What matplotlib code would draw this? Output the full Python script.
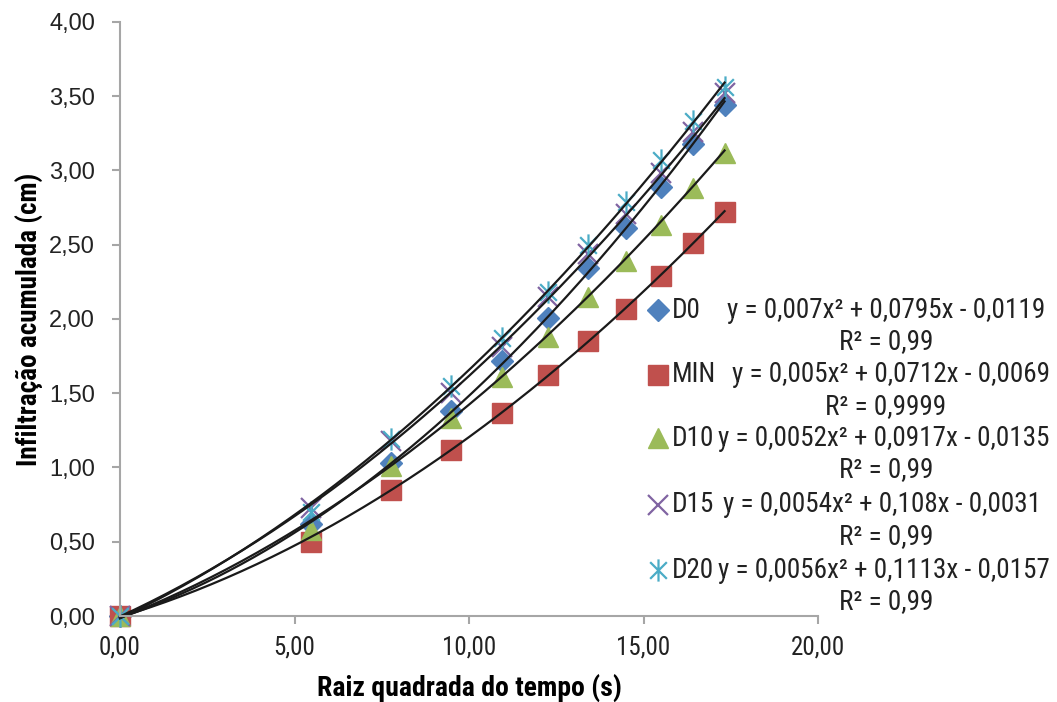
import matplotlib
matplotlib.use("Agg")
import matplotlib.pyplot as plt
import matplotlib.font_manager as fm
import numpy as np
from matplotlib.lines import Line2D
from matplotlib.path import Path

# raiz quadrada do tempo
x = [0.0, 5.48, 7.75, 9.49, 10.95, 12.25, 13.42, 14.49, 15.49, 16.43, 17.32]

d0 = [0.0, 0.62, 1.03, 1.38, 1.72, 2.01, 2.34, 2.61, 2.89, 3.18, 3.44]
mn = [0.0, 0.50, 0.85, 1.12, 1.37, 1.62, 1.85, 2.07, 2.29, 2.51, 2.72]
d10 = [0.0, 0.58, 1.01, 1.33, 1.61, 1.88, 2.15, 2.39, 2.63, 2.88, 3.12]
d15 = [0.0, 0.73, 1.18, 1.50, 1.81, 2.15, 2.44, 2.71, 2.98, 3.26, 3.52]
d20 = [0.0, 0.70, 1.19, 1.55, 1.87, 2.18, 2.50, 2.79, 3.07, 3.33, 3.56]

# trendline coefficients (a, b, c) as printed on the chart
coef_d0 = [0.007, 0.0795, -0.0119]
coef_mn = [0.005, 0.0712, -0.0069]
coef_d10 = [0.0052, 0.0917, -0.0135]
coef_d15 = [0.0054, 0.108, -0.0031]
coef_d20 = [0.0056, 0.1113, -0.0157]

names = ["D0", "MIN", "D10", "D15", "D20"]
equations = [
    "y = 0,007x² + 0,0795x - 0,0119",
    "y = 0,005x² + 0,0712x - 0,0069",
    "y = 0,0052x² + 0,0917x - 0,0135",
    "y = 0,0054x² + 0,108x - 0,0031",
    "y = 0,0056x² + 0,1113x - 0,0157",
]
r2 = ["R² = 0,99", "R² = 0,9999", "R² = 0,99", "R² = 0,99", "R² = 0,99"]

star = Path(
    [(0, -1), (0, 1), (-0.75, -0.75), (0.75, 0.75), (-0.75, 0.75), (0.75, -0.75)],
    [Path.MOVETO, Path.LINETO] * 3,
)

# pick a narrow face similar to Arial Narrow
installed = {f.name for f in fm.fontManager.ttflist}
for cand in ["Arial Narrow", "Liberation Sans Narrow", "Roboto Condensed",
             "PT Sans Narrow", "Archivo Narrow", "Fira Sans Condensed",
             "Open Sans Condensed", "Barlow Semi Condensed", "Barlow Condensed"]:
    if cand in installed:
        narrow = cand
        break
else:
    narrow = "DejaVu Sans"
plt.rcParams["font.family"] = [narrow, "DejaVu Sans"]

W, H = 1057, 702
fig = plt.figure(figsize=(W / 100, H / 100), dpi=100)
ax = fig.add_axes([0.1135, 0.1225, 0.6605, 0.8462])

styles = [
    dict(marker="D", color="#4F81BD", ms=11, mec="#4F81BD"),
    dict(marker="s", color="#C0504D", ms=14, mec="#C0504D"),
    dict(marker="^", color="#9BBB59", ms=15, mec="#9BBB59"),
    dict(marker="x", color="#8064A2", ms=14, mew=1.6),
    dict(marker=star, color="#4BACC6", ms=16, mew=1.6),
]
series = [d0, mn, d10, d15, d20]
coefs = [coef_d0, coef_mn, coef_d10, coef_d15, coef_d20]

for ys, style in zip(series, styles):
    ax.plot(x, ys, linestyle="none", clip_on=False, **style)
xfit = np.linspace(0, max(x), 200)
for coef in coefs:
    ax.plot(xfit, np.polyval(coef, xfit), color="#1a1a1a", lw=1.6, clip_on=False)

ax.set_xlim(0, 20)
ax.set_ylim(0, 4)
xt = np.arange(0, 20.1, 5)
yt = np.arange(0, 4.01, 0.5)
ax.set_xticks(xt)
ax.set_yticks(yt)
ax.set_xticklabels([f"{v:.2f}".replace(".", ",") for v in xt], fontsize=18)
ax.set_yticklabels([f"{v:.2f}".replace(".", ",") for v in yt],
                   fontsize=17, family=["Liberation Sans", "DejaVu Sans"])

for s in ["top", "right"]:
    ax.spines[s].set_visible(False)
for s in ["left", "bottom"]:
    ax.spines[s].set_color("#a6a6a6")
    ax.spines[s].set_linewidth(1.5)
ax.tick_params(axis="both", direction="out", color="#a6a6a6", width=1.5, length=6,
               labelcolor="#222222")
ax.tick_params(axis="x", pad=8)
ax.tick_params(axis="y", pad=12)
ax.set_xlabel("Raiz quadrada do tempo (s)", fontsize=20, fontweight="bold", labelpad=10)
ax.set_ylabel("Infiltração acumulada (cm)", fontsize=19.5, fontweight="bold", labelpad=4)

# legend, built by hand: marker aligned with the equation line, R² centred below
row_y = [310, 375, 438, 505, 570]
eq_right = [1045, 1050, 1050, 1041, 1050]
for name, eq, r, style, py, xr in zip(names, equations, r2, styles, row_y, eq_right):
    fy = 1 - py / H
    fig.add_artist(Line2D([658 / W], [fy], transform=fig.transFigure,
                          linestyle="none", **style))
    fig.text(672 / W, fy, name, fontsize=19.5, color="#222222", va="center")
    fig.text(xr / W, fy, eq, fontsize=19.5, color="#222222", va="center", ha="right")
    fig.text(886 / W, 1 - (py + 32) / H, r, fontsize=19.5, color="#222222",
             va="center", ha="center")

fig.savefig("out.png", dpi=100)
